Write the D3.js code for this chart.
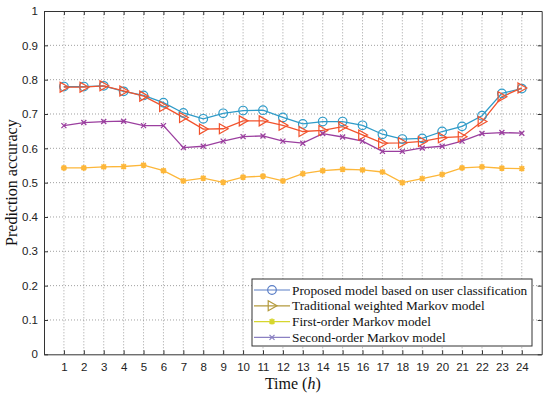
<!DOCTYPE html>
<html><head><meta charset="utf-8">
<script src="https://cdn.jsdelivr.net/npm/d3@7"></script>
<style>body{margin:0;background:#fff}svg{display:block}</style>
</head><body>
<script>
const hours = d3.range(1, 25);
const proposed = [0.780,0.780,0.782,0.766,0.754,0.733,0.703,0.686,0.702,0.710,0.711,0.690,0.671,0.678,0.678,0.667,0.641,0.627,0.629,0.649,0.664,0.695,0.760,0.774];
const traditional = [0.778,0.778,0.782,0.767,0.752,0.722,0.690,0.656,0.657,0.680,0.680,0.667,0.649,0.652,0.663,0.639,0.615,0.616,0.620,0.631,0.634,0.678,0.750,0.776];
const firstOrder = [0.543,0.543,0.546,0.547,0.551,0.535,0.505,0.513,0.501,0.516,0.519,0.505,0.526,0.535,0.539,0.537,0.531,0.500,0.512,0.524,0.543,0.546,0.542,0.541];
const secondOrder = [0.666,0.675,0.678,0.679,0.666,0.666,0.602,0.606,0.621,0.634,0.636,0.621,0.615,0.643,0.633,0.621,0.591,0.591,0.601,0.606,0.621,0.643,0.646,0.644];
const yTicks = [0,0.1,0.2,0.3,0.4,0.5,0.6,0.7,0.8,0.9,1];
const seriesNames = ["Proposed model based on user classification","Traditional weighted Markov model","First-order Markov model","Second-order Markov model"];
const lineColors = ["#2f9bc8","#f2522c","#fdb73a","#9b3f9f"];
const legendColors = ["#5a7ec6","#b39a3c","#d6d62e","#8a80c2"];
const markers = ["circle","triangle","star","cross"];
const allSeries = [proposed, traditional, firstOrder, secondOrder];

const W = 550, H = 395;
const m = {l:44, r:8.3, t:11, b:40.7};
const svg = d3.select("body").append("svg").attr("width",W).attr("height",H);
const x = d3.scaleLinear().domain([0,25]).range([m.l, W-m.r]);
const y = d3.scaleLinear().domain([0,1]).range([H-m.b, m.t]);
const pw = W-m.r-m.l, ph = H-m.b-m.t;

// grid
const g = svg.append("g");
g.selectAll(".vg").data(hours).join("line")
  .attr("x1",d=>x(d)).attr("x2",d=>x(d)).attr("y1",y(0)).attr("y2",y(1))
  .attr("stroke","#888").attr("stroke-width",0.8).attr("stroke-dasharray","1,2");
g.selectAll(".hg").data(yTicks.slice(1,-1)).join("line")
  .attr("x1",x(0)).attr("x2",x(25)).attr("y1",d=>y(d)).attr("y2",d=>y(d))
  .attr("stroke","#888").attr("stroke-width",0.8).attr("stroke-dasharray","1,2");

// axes
const tickCol = "#333";
const xAxis = svg.append("g").attr("transform",`translate(0,${y(0)})`)
  .call(d3.axisBottom(x).tickValues(hours).tickSizeInner(-4).tickSizeOuter(0).tickPadding(9));
const yAxis = svg.append("g").attr("transform",`translate(${x(0)},0)`)
  .call(d3.axisLeft(y).tickValues(yTicks).tickFormat(d3.format("")).tickSizeInner(-4).tickSizeOuter(0).tickPadding(6));
const xTop = svg.append("g").attr("transform",`translate(0,${y(1)})`)
  .call(d3.axisTop(x).tickValues(hours).tickSizeInner(-4).tickSizeOuter(0).tickFormat(""));
const yRight = svg.append("g").attr("transform",`translate(${x(25)},0)`)
  .call(d3.axisRight(y).tickValues(yTicks).tickSizeInner(-4).tickSizeOuter(0).tickFormat(""));
[xAxis,yAxis,xTop,yRight].forEach(a=>{
  a.select(".domain").attr("stroke",tickCol).attr("stroke-width",1);
  a.selectAll(".tick line").attr("stroke",tickCol);
  a.selectAll("text").attr("font-family","Liberation Sans, Arial, sans-serif").attr("font-size",11.5).attr("fill","#222");
});

// lines
const line = d3.line().x((d,i)=>x(hours[i])).y(d=>y(d));
function drawMarker(sel, type, color){
  if(type==="circle"){
    sel.append("circle").attr("r",4.3).attr("fill","none").attr("stroke",color).attr("stroke-width",1.2);
  } else if(type==="triangle"){
    sel.append("path").attr("d","M-3.8,-5L5,0L-3.8,5Z").attr("fill","none").attr("stroke",color).attr("stroke-width",1.2);
  } else if(type==="star"){
    sel.append("path").attr("d","M-3,0H3M0,-3V3M-2.3,-2.3L2.3,2.3M-2.3,2.3L2.3,-2.3").attr("stroke",color).attr("stroke-width",1.6);
    sel.append("circle").attr("r",1.8).attr("fill",color);
  } else {
    sel.append("path").attr("d","M-2.5,-2.5L2.5,2.5M-2.5,2.5L2.5,-2.5").attr("stroke",color).attr("stroke-width",1.3);
  }
}
allSeries.forEach((s,k)=>{
  svg.append("path").datum(s).attr("d",line).attr("fill","none").attr("stroke",lineColors[k]).attr("stroke-width",1.3);
});
allSeries.forEach((s,k)=>{
  svg.append("g").selectAll("g").data(s).join("g")
    .attr("transform",(d,i)=>`translate(${x(hours[i])},${y(d)})`)
    .each(function(){ drawMarker(d3.select(this), markers[k], lineColors[k]); });
});

// legend
const lg = svg.append("g").attr("transform","translate(252,279)");
lg.append("rect").attr("width",280).attr("height",67).attr("fill","#fff").attr("stroke","#333").attr("stroke-width",1);
seriesNames.forEach((n,k)=>{
  const yy = 11 + k*15.8;
  lg.append("line").attr("x1",2).attr("x2",38).attr("y1",yy).attr("y2",yy).attr("stroke",legendColors[k]).attr("stroke-width",1.2);
  drawMarker(lg.append("g").attr("transform",`translate(20,${yy})`), markers[k], legendColors[k]);
  lg.append("text").attr("x",40).attr("y",yy).attr("dy","0.35em").text(n)
    .attr("font-family","Liberation Serif, Times New Roman, serif").attr("font-size",13.3).attr("fill","#111");
});

// axis titles
const xt = svg.append("text").attr("x",x(12.5)).attr("y",389).attr("text-anchor","middle")
  .attr("font-family","Liberation Serif, Times New Roman, serif").attr("font-size",16).attr("fill","#111");
xt.append("tspan").text("Time (");
xt.append("tspan").attr("font-style","italic").text("h");
xt.append("tspan").text(")");
svg.append("text").attr("transform",`translate(17,${y(0.5)}) rotate(-90)`).attr("text-anchor","middle")
  .attr("font-family","Liberation Serif, Times New Roman, serif").attr("font-size",16).attr("fill","#111")
  .text("Prediction accuracy");
</script>
</body></html>
